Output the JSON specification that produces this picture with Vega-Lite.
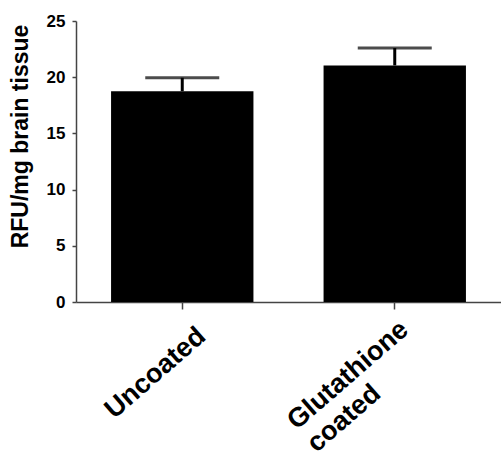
{
  "$schema": "https://vega.github.io/schema/vega-lite/v6.json",
  "autosize": {"type": "none"},
  "padding": {"left": 76, "top": 21, "right": 0, "bottom": 157},
  "width": 425,
  "height": 281,
  "background": "white",
  "config": {"view": {"stroke": null}, "font": "Liberation Sans"},
  "data": {"values": [
    {"group": "Uncoated", "value": 18.75, "upper": 19.95},
    {"group": "Glutathione coated", "value": 21.05, "upper": 22.6}
  ]},
  "encoding": {
    "x": {
      "field": "group", "type": "nominal", "sort": null,
      "scale": {"paddingInner": 0.33, "paddingOuter": 0.165},
      "axis": {
        "title": null,
        "labelAngle": -41,
        "labelAlign": "left",
        "labelBaseline": "alphabetic",
        "labelFont": "Liberation Sans",
        "labelFontWeight": "bold",
        "labelFontSize": 27,
        "labelColor": "black",
        "labelLimit": 0,
        "labelOverlap": false,
        "labelBound": false,
        "labelLineHeight": 30,
        "labelExpr": "datum.label == 'Glutathione coated' ? ['Glutathione', 'coated'] : datum.label",
        "labelOffset": {"condition": {"test": "datum.label == 'Uncoated'", "value": -68}, "value": -98},
        "labelPadding": {"condition": {"test": "datum.label == 'Uncoated'", "value": 110}, "value": 121},
        "tickSize": 7,
        "tickWidth": 1.5,
        "tickColor": "#444",
        "domainColor": "#444",
        "domainWidth": 1.5
      }
    }
  },
  "layer": [
    {
      "mark": {"type": "bar", "color": "black"},
      "encoding": {
        "y": {
          "field": "value", "type": "quantitative",
          "scale": {"domain": [0, 25], "nice": false},
          "axis": {
            "title": "RFU/mg brain tissue",
            "values": [0, 5, 10, 15, 20, 25],
            "grid": false,
            "labelFont": "Liberation Sans",
            "labelFontWeight": "bold",
            "labelFontSize": 17,
            "labelColor": "black",
            "labelPadding": 7,
            "tickSize": 4,
            "tickWidth": 1.5,
            "tickColor": "#444",
            "domainColor": "#444",
            "domainWidth": 1.5,
            "titleFont": "Liberation Sans",
            "titleFontWeight": "bold",
            "titleFontSize": 23,
            "titleColor": "black",
            "titleAngle": -90,
            "titleX": -56,
            "titleY": 115,
            "titleAlign": "center",
            "titleBaseline": "middle"
          }
        }
      }
    },
    {
      "mark": {"type": "rule", "color": "black", "strokeWidth": 3},
      "encoding": {
        "y": {"field": "value", "type": "quantitative"},
        "y2": {"field": "upper"}
      }
    },
    {
      "mark": {"type": "tick", "color": "black", "size": 74, "thickness": 3, "orient": "horizontal"},
      "encoding": {
        "y": {"field": "upper", "type": "quantitative"}
      }
    }
  ]
}
